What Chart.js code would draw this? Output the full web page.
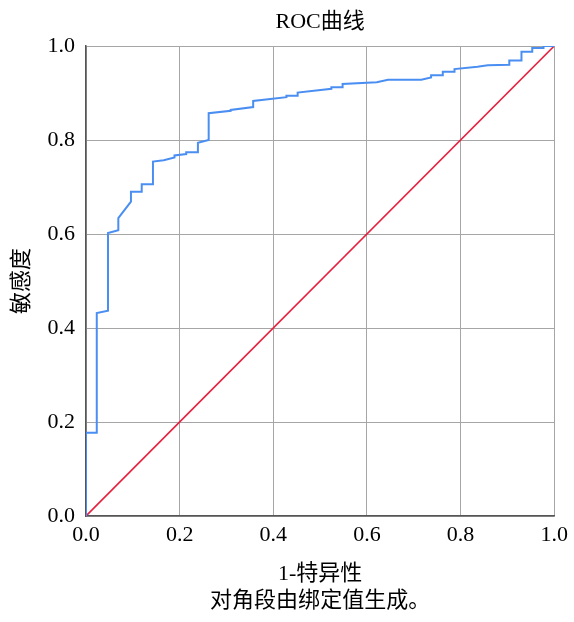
<!DOCTYPE html>
<html>
<head>
<meta charset="utf-8">
<script src="https://cdn.jsdelivr.net/npm/chart.js@4/dist/chart.umd.min.js"></script>
<style>
    body { margin: 0; background: #fff; }
    #wrap { width: 574px; height: 622px; }
</style>
</head>
<body>
<div id="wrap"><canvas id="roc" width="574" height="622"></canvas></div>
<script>
// ROC curve points (1-specificity, sensitivity)
const fpr = [0, 0, 0.023, 0.023, 0.047, 0.047, 0.069, 0.069, 0.096, 0.096, 0.119, 0.119, 0.143, 0.143,
    0.166, 0.189, 0.189, 0.214, 0.214, 0.239, 0.239, 0.262, 0.262, 0.309, 0.309, 0.357, 0.357,
    0.428, 0.428, 0.452, 0.452, 0.524, 0.524, 0.548, 0.548, 0.621, 0.645, 0.716, 0.737, 0.737,
    0.762, 0.762, 0.787, 0.787, 0.836, 0.858, 0.904, 0.904, 0.930, 0.930, 0.953, 0.953, 0.977, 0.977, 1];
const tpr = [0, 0.177, 0.177, 0.432, 0.437, 0.602, 0.608, 0.634, 0.669, 0.690, 0.690, 0.706, 0.706, 0.754,
    0.757, 0.763, 0.767, 0.770, 0.774, 0.774, 0.794, 0.800, 0.857, 0.862, 0.864, 0.870, 0.883,
    0.891, 0.894, 0.894, 0.901, 0.909, 0.912, 0.912, 0.919, 0.923, 0.928, 0.928, 0.933, 0.938,
    0.938, 0.945, 0.945, 0.951, 0.956, 0.959, 0.960, 0.969, 0.969, 0.988, 0.988, 0.996, 0.996, 1.0, 1];

// reference diagonal
const diagX = [0, 1];
const diagY = [0, 1];

const tickValues = [0, 0.2, 0.4, 0.6, 0.8, 1.0];

const serif = "'Liberation Serif', 'Times New Roman', 'Noto Sans CJK SC', serif";
const gridColor = '#a6a6a6';
const fontSize = 22;

const rocPoints = fpr.map((x, i) => ({ x: x, y: tpr[i] }));
const diagPoints = diagX.map((x, i) => ({ x: x, y: diagY[i] }));

new Chart(document.getElementById('roc').getContext('2d'), {
    type: 'scatter',
    data: {
        datasets: [
            {
                label: 'ROC',
                data: rocPoints,
                showLine: true,
                borderColor: '#4a8ef2',
                borderWidth: 2,
                pointRadius: 0,
                tension: 0
            },
            {
                label: '参考线',
                data: diagPoints,
                showLine: true,
                borderColor: '#e5213f',
                borderWidth: 1.6,
                pointRadius: 0
            }
        ]
    },
    options: {
        responsive: false,
        animation: false,
        layout: { padding: { left: 0, right: 17, top: 0, bottom: 0 } },
        plugins: {
            legend: { display: false },
            tooltip: { enabled: false },
            // centred over the plot area, not the whole canvas
            title: {
                display: true,
                fullSize: false,
                text: 'ROC曲线',
                color: '#000',
                font: { family: serif, size: fontSize, weight: 'normal' },
                padding: { top: 9, bottom: 10.6 }
            },
            subtitle: {
                display: true,
                fullSize: false,
                position: 'bottom',
                text: '对角段由绑定值生成。',
                color: '#000',
                font: { family: serif, size: fontSize },
                padding: { top: 0, bottom: 7.8 }
            }
        },
        scales: {
            x: {
                type: 'linear',
                min: 0,
                max: 1,
                afterFit: (scale) => { scale.height = 71.8; },
                afterBuildTicks: (scale) => { scale.ticks = tickValues.map(v => ({ value: v })); },
                ticks: {
                    padding: 6,
                    color: '#000',
                    font: { family: serif, size: fontSize },
                    callback: (v) => Number(v).toFixed(1)
                },
                grid: { color: gridColor, drawTicks: false },
                border: { color: '#555', width: 1.5 },
                title: {
                    display: true,
                    text: '1-特异性',
                    color: '#000',
                    font: { family: serif, size: fontSize },
                    padding: { top: 0, bottom: 0 }
                }
            },
            y: {
                type: 'linear',
                min: 0,
                max: 1,
                afterFit: (scale) => { scale.width = 86; },
                afterBuildTicks: (scale) => { scale.ticks = tickValues.map(v => ({ value: v })); },
                ticks: {
                    padding: 11,
                    color: '#000',
                    font: { family: serif, size: fontSize },
                    callback: (v) => Number(v).toFixed(1)
                },
                grid: { color: gridColor, drawTicks: false },
                border: { color: '#555', width: 1.5 },
                title: {
                    display: true,
                    text: '敏感度',
                    color: '#000',
                    font: { family: serif, size: fontSize },
                    padding: { top: 9, bottom: 0 }
                }
            }
        }
    }
});
</script>
</body>
</html>
